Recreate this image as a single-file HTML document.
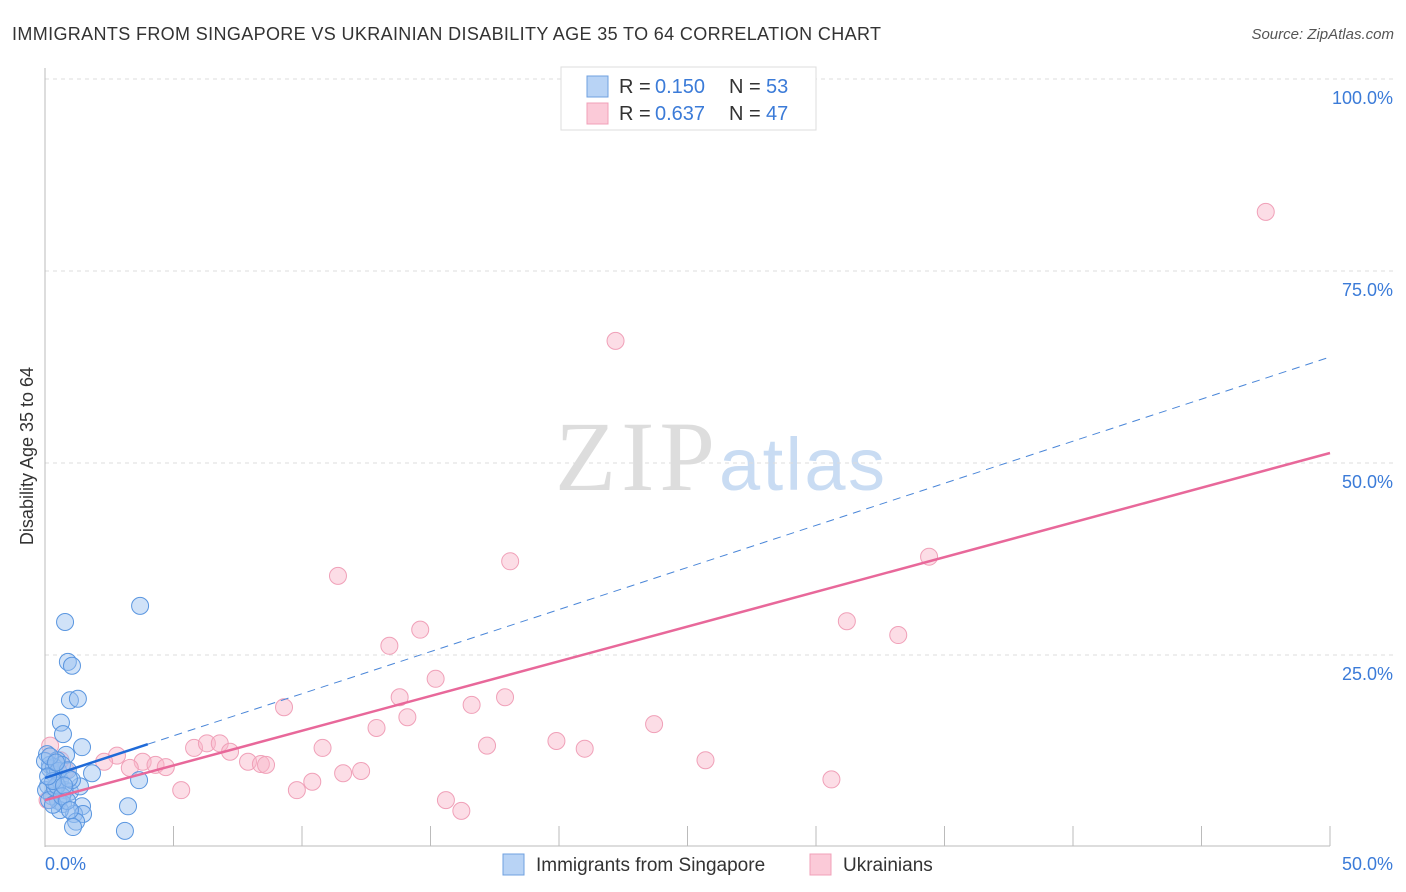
<!DOCTYPE html>
<html><head><meta charset="utf-8"><style>
body{margin:0;background:#fff;font-family:"Liberation Sans",sans-serif;}
#wrap{position:relative;width:1406px;height:892px;overflow:hidden}
</style></head><body>
<div id="wrap">
<svg id="chart" width="1406" height="892"></svg>
</div>
<script>
const blueX=[0.78,3.70,0.89,1.05,0.97,1.28,0.62,0.70,1.44,0.08,0.82,0.47,1.83,3.66,0.19,0.39,0.58,0.78,0.97,0.12,0.27,0.51,0.70,1.36,1.44,1.13,1.48,0.58,3.23,1.21,1.09,3.11,0.19,0.35,0.51,0.66,0.04,0.16,0.31,0.39,0.89,1.05,0.0,0.19,0.47,0.66,0.86,0.93,0.31,0.12,0.43,0.74,0.97];
const blueY=[29.3,31.4,24.1,23.6,19.1,19.3,16.2,14.7,13.0,12.1,12.0,11.3,9.6,8.7,10.7,9.4,8.7,7.4,7.2,8.0,6.6,6.0,5.6,7.9,5.3,4.3,4.3,4.8,5.3,3.3,2.6,2.1,10.2,10.4,9.9,10.7,7.4,6.1,5.5,7.7,10.0,8.7,11.2,11.8,8.0,6.6,6.0,8.9,8.6,9.2,11.0,8.0,4.8];
const pinkX=[47.5,22.2,18.1,34.4,11.4,14.6,13.4,31.2,33.2,15.2,9.3,13.8,17.9,16.6,14.1,12.9,23.7,19.9,21.0,17.2,10.8,5.8,6.3,6.8,7.2,2.8,2.3,3.8,4.3,4.7,3.3,7.9,8.4,8.6,11.6,12.3,25.7,5.3,9.8,10.4,15.6,16.2,30.6,0.2,0.8,0.6,0.1];
const pinkY=[82.7,65.9,37.2,37.8,35.3,28.3,26.2,29.4,27.6,21.9,18.2,19.5,19.5,18.5,16.9,15.5,16.0,13.8,12.8,13.2,12.9,12.9,13.5,13.5,12.4,11.9,11.1,11.1,10.7,10.4,10.3,11.1,10.8,10.7,9.6,9.9,11.3,7.4,7.4,8.5,6.1,4.7,8.8,13.2,10.0,11.3,6.1];
const blueTrend=[9.0,1.096], pinkTrend=[6.1,0.904];
const yTicks=[25,50,75,100];
const X=v=>45+v/50*1285, Y=v=>847-v*7.68;
const svg=document.getElementById('chart');const NS='http://www.w3.org/2000/svg';
function mk(t,a,p){const e=document.createElementNS(NS,t);for(const k in a)e.setAttribute(k,a[k]);(p||svg).appendChild(e);return e;}
let e;
e=mk('text',{x:12,y:40,'font-size':18,fill:'#333',textLength:869});e.textContent='IMMIGRANTS FROM SINGAPORE VS UKRAINIAN DISABILITY AGE 35 TO 64 CORRELATION CHART';

e=mk('text',{x:1394,y:39,'font-size':15,fill:'#555','text-anchor':'end','font-style':'italic'});e.textContent='Source: ZipAtlas.com';

e=mk('text',{x:555,y:490,'font-size':100,fill:'#ddd','font-family':'Liberation Serif, serif',textLength:160});e.textContent='ZIP';

e=mk('text',{x:719,y:490,'font-size':74,fill:'#c9dcf3',textLength:166});e.textContent='atlas';

yTicks.forEach(t=>{const l=mk('line',{x1:45,x2:1394,y1:Y(t),y2:Y(t),stroke:'#ddd','stroke-dasharray':'4,4'});

const tx=mk('text',{x:1393,y:Y(t)+25,'font-size':18,fill:'#3b7bd8','text-anchor':'end'});tx.textContent=t.toFixed(1)+'%';
});
e=mk('line',{x1:45,x2:45,y1:68,y2:847,stroke:'#bbb'});
e=mk('line',{x1:45,x2:1330,y1:846,y2:846,stroke:'#bbb'});
for(let i=1;i<=10;i++){const l=mk('line',{x1:X(i*5),x2:X(i*5),y1:826,y2:846,stroke:'#bbb'});}
e=mk('text',{x:45,y:870,'font-size':18,fill:'#3b7bd8'});e.textContent='0.0%';
e=mk('text',{x:1393,y:870,'font-size':18,fill:'#3b7bd8','text-anchor':'end'});e.textContent='50.0%';
e=mk('text',{x:0,y:0,'font-size':18,fill:'#333','text-anchor':'middle',transform:'translate(33,456) rotate(-90)'});e.textContent='Disability Age 35 to 64';

pinkX.forEach((v,i)=>{const c=mk('circle',{cx:X(v),cy:Y(pinkY[i]),r:8.5,fill:'rgba(248,180,200,0.45)',stroke:'#f0a0b8','stroke-width':1});
});
blueX.forEach((v,i)=>{const c=mk('circle',{cx:X(v),cy:Y(blueY[i]),r:8.5,fill:'rgba(150,190,240,0.45)',stroke:'#5a96e0','stroke-width':1});
});
e=mk('line',{x1:X(4),y1:Y(blueTrend[0]+blueTrend[1]*4),x2:X(50),y2:Y(blueTrend[0]+blueTrend[1]*50),stroke:'#4a86d8','stroke-width':1,'stroke-dasharray':'8,6'});

e=mk('line',{x1:X(0),y1:Y(blueTrend[0]),x2:X(4),y2:Y(blueTrend[0]+blueTrend[1]*4),stroke:'#1f6ad8','stroke-width':2.5});

e=mk('line',{x1:X(0),y1:Y(pinkTrend[0]),x2:X(50),y2:Y(pinkTrend[0]+pinkTrend[1]*50),stroke:'#e8689a','stroke-width':2.5});

const lg=mk('g',{});
mk('rect',{x:561,y:67,width:255,height:63,fill:'#fff',stroke:'#ddd'},lg);
[['#b8d3f5','#6fa0e0','0.150','53',86],['#fbcad8','#f0a0b8','0.637','47',113]].forEach(r=>{
mk('rect',{x:587,y:r[4]-10,width:21,height:21,fill:r[0],stroke:r[1]},lg);
const parts=[[619,'R =','#333'],[655,r[2],'#3b7bd8'],[729,'N =','#333'],[766,r[3],'#3b7bd8']];
parts.forEach(p=>{const t=mk('text',{x:p[0],y:r[4]+7,'font-size':20,fill:p[2]},lg);t.textContent=p[1];
});});
[[503,'#b8d3f5','#6fa0e0','Immigrants from Singapore'],[810,'#fbcad8','#f0a0b8','Ukrainians']].forEach(r=>{
const g=mk('g',{});
mk('rect',{x:r[0],y:854,width:21,height:21,fill:r[1],stroke:r[2]},g);
const t=mk('text',{x:r[0]+33,y:871,'font-size':19,fill:'#333'},g);t.textContent=r[3];});
</script>
</body></html>
